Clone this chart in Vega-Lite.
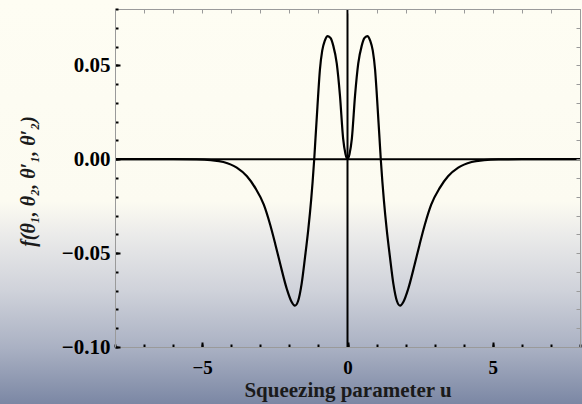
{
  "$schema": "https://vega.github.io/schema/vega-lite/v6.json",
  "width": 465,
  "height": 338,
  "autosize": "none",
  "padding": {"left": 115, "top": 9, "right": 2, "bottom": 57},
  "background": "#fefdf3",
  "data": {"values": [{}]},
  "config": {
    "view": {"stroke": null},
    "axis": {
      "grid": false,
      "labelFont": "Liberation Serif",
      "labelFontWeight": "bold",
      "labelFontSize": 21,
      "labelColor": "#000000",
      "titleFont": "Liberation Serif",
      "titleFontWeight": "bold",
      "titleFontSize": 22,
      "titleColor": "#1a1a1a",
      "domainColor": "#9a9a9a",
      "domainWidth": 1
    }
  },
  "datasets": {
    "curve": [
      {"u": -8.0, "f": 0}, {"u": -6.0, "f": 0}, {"u": -5.2, "f": -0.0001}, {"u": -4.7, "f": -0.0005},
      {"u": -4.27, "f": -0.0015}, {"u": -3.81, "f": -0.0045}, {"u": -3.46, "f": -0.0091}, {"u": -3.17, "f": -0.0154},
      {"u": -2.88, "f": -0.0242}, {"u": -2.66, "f": -0.0349}, {"u": -2.48, "f": -0.0455}, {"u": -2.31, "f": -0.0561},
      {"u": -2.08, "f": -0.0695}, {"u": -1.93, "f": -0.0758}, {"u": -1.81, "f": -0.078}, {"u": -1.7, "f": -0.0755},
      {"u": -1.58, "f": -0.0665}, {"u": -1.46, "f": -0.052}, {"u": -1.35, "f": -0.0375}, {"u": -1.25, "f": -0.0215},
      {"u": -1.2, "f": -0.012}, {"u": -1.145, "f": 0}, {"u": -1.1, "f": 0.0115}, {"u": -1.05, "f": 0.024},
      {"u": -1.0, "f": 0.0365}, {"u": -0.95, "f": 0.0475}, {"u": -0.87, "f": 0.0578},
      {"u": -0.78, "f": 0.0632}, {"u": -0.68, "f": 0.0656}, {"u": -0.58, "f": 0.0645}, {"u": -0.49, "f": 0.0605},
      {"u": -0.37, "f": 0.051}, {"u": -0.26, "f": 0.034}, {"u": -0.15, "f": 0.011}, {"u": -0.07, "f": 0.0028},
      {"u": 0.0, "f": 0},
      {"u": 0.07, "f": 0.0028}, {"u": 0.15, "f": 0.011}, {"u": 0.26, "f": 0.034}, {"u": 0.37, "f": 0.051},
      {"u": 0.49, "f": 0.0605}, {"u": 0.58, "f": 0.0645}, {"u": 0.68, "f": 0.0656}, {"u": 0.78, "f": 0.0632},
      {"u": 0.87, "f": 0.0578}, {"u": 0.95, "f": 0.0475}, {"u": 1.0, "f": 0.0365}, {"u": 1.05, "f": 0.024},
      {"u": 1.1, "f": 0.0115}, {"u": 1.145, "f": 0}, {"u": 1.2, "f": -0.012}, {"u": 1.25, "f": -0.0215},
      {"u": 1.35, "f": -0.0375}, {"u": 1.46, "f": -0.052}, {"u": 1.58, "f": -0.0665},
      {"u": 1.7, "f": -0.0755}, {"u": 1.81, "f": -0.078}, {"u": 1.93, "f": -0.0758}, {"u": 2.08, "f": -0.0695},
      {"u": 2.31, "f": -0.0561}, {"u": 2.48, "f": -0.0455}, {"u": 2.66, "f": -0.0349}, {"u": 2.88, "f": -0.0242},
      {"u": 3.17, "f": -0.0154}, {"u": 3.46, "f": -0.0091}, {"u": 3.81, "f": -0.0045}, {"u": 4.27, "f": -0.0015},
      {"u": 4.7, "f": -0.0005}, {"u": 5.2, "f": -0.0001}, {"u": 6.0, "f": 0}, {"u": 8.0, "f": 0}
    ]
  },
  "resolve": {"axis": {"x": "independent", "y": "independent"}},
  "layer": [
    {
      "mark": {
        "type": "rect",
        "color": {
          "gradient": "linear", "x1": 0, "y1": 0, "x2": 0, "y2": 1,
          "stops": [
            {"offset": 0, "color": "#fefdf3"},
            {"offset": 0.5, "color": "#fcfbf1"},
            {"offset": 0.58, "color": "#ebebea"},
            {"offset": 0.72, "color": "#cfd2da"},
            {"offset": 0.86, "color": "#aab1c3"},
            {"offset": 1, "color": "#7b87a4"}
          ]
        }
      },
      "encoding": {
        "x": {"datum": -11.96, "type": "quantitative", "scale": {"domain": [-8, 8], "nice": false, "zero": false},
          "axis": {"orient": "top", "zindex": 2, "title": null, "labels": false, "values": [-8,-7,-6,-5,-4,-3,-2,-1,0,1,2,3,4,5,6,7,8], "tickSize": -4, "tickColor": "#9a9a9a", "tickWidth": 1}},
        "x2": {"datum": 8.07},
        "y": {"datum": 0.0848, "type": "quantitative", "scale": {"domain": [-0.1, 0.08], "nice": false, "zero": false},
          "axis": {"orient": "right", "zindex": 2, "title": null, "labels": false, "values": [-0.1,-0.09,-0.08,-0.07,-0.06,-0.05,-0.04,-0.03,-0.02,-0.01,0,0.01,0.02,0.03,0.04,0.05,0.06,0.07,0.08], "tickSize": -4, "tickColor": "#9a9a9a", "tickWidth": 1}},
        "y2": {"datum": -0.1304}
      }
    },
    {
      "mark": {"type": "rule", "color": "#000000", "strokeWidth": 2},
      "encoding": {
        "x": {"datum": 0, "type": "quantitative",
          "axis": {"orient": "bottom", "zindex": 2, "title": null, "labels": false, "domain": false, "values": [-8,-7,-6,-5,-4,-3,-2,-1,0,1,2,3,4,5,6,7,8], "tickSize": -3, "tickColor": "#000000", "tickWidth": 2}}
      }
    },
    {
      "mark": {"type": "rule", "color": "#000000", "strokeWidth": 2},
      "encoding": {
        "y": {"datum": 0, "type": "quantitative",
          "axis": {"orient": "left", "zindex": 2, "title": null, "labels": false, "domain": false, "values": [-0.1,-0.09,-0.08,-0.07,-0.06,-0.05,-0.04,-0.03,-0.02,-0.01,0,0.01,0.02,0.03,0.04,0.05,0.06,0.07,0.08], "tickSize": -3, "tickColor": "#000000", "tickWidth": 2}}
      }
    },
    {
      "data": {"name": "curve"},
      "mark": {"type": "line", "color": "#000000", "strokeWidth": 2.2, "interpolate": "monotone"},
      "encoding": {
        "x": {"field": "u", "type": "quantitative",
          "axis": {"orient": "bottom", "zindex": 2, "title": "Squeezing parameter u", "titleFontSize": 21, "values": [-5, 0, 5], "format": "d", "tickSize": -5, "tickColor": "#000000", "tickWidth": 2, "labelBaseline": "alphabetic", "labelPadding": 31, "labelFontSize": 19, "titleBaseline": "alphabetic", "titleY": 49}},
        "y": {"field": "f", "type": "quantitative",
          "axis": {"orient": "left", "zindex": 2, "title": "f(θ₁, θ₂, θ′₁, θ′₂)", "titleFontStyle": "italic", "titleFontSize": 20, "values": [-0.1, -0.05, 0, 0.05], "format": ".2f", "tickSize": -5, "tickColor": "#000000", "tickWidth": 2, "labelPadding": 10, "titleAngle": -90, "titleBaseline": "alphabetic", "titleX": -81, "titleY": 172}}
      }
    }
  ]
}
